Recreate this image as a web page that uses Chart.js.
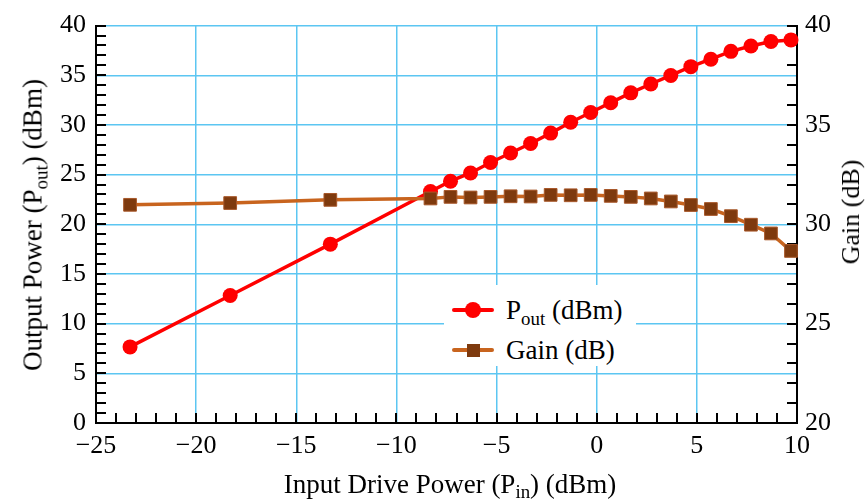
<!DOCTYPE html>
<html lang="en">
<head>
  <meta charset="UTF-8">
  <title>Output Power and Gain vs Input Drive Power</title>
  <style>
    * {
      margin: 0;
      padding: 0;
      box-sizing: border-box;
    }
    body {
      background: #ffffff;
      font-family: "Liberation Serif", "Times New Roman", serif;
      color: #000;
    }
    #wrap {
      position: relative;
      width: 867px;
      height: 501px;
    }
    .title {
      position: absolute;
      white-space: nowrap;
      font-size: 27px;
      line-height: 1;
      transform: translate(-50%, -50%);
    }
    .title sub {
      font-size: 70%;
      vertical-align: -0.3em;
      line-height: 0;
    }
    #legend {
      position: absolute;
      left: 444px;
      top: 285px;
      width: 192px;
      height: 81px;
      background: #fff;
      font-size: 27px;
    }
    #legend .row {
      position: absolute;
      left: 8px;
      height: 30px;
      display: flex;
      align-items: center;
    }
    #legend .key {
      position: relative;
      width: 42px;
      height: 30px;
      margin-right: 12px;
    }
    #legend .bar {
      position: absolute;
      left: 0;
      top: 13px;
      width: 42px;
      height: 4px;
      border-radius: 2px;
    }
    #legend .mk {
      position: absolute;
      left: 13px;
      top: 7px;
      width: 16px;
      height: 16px;
    }
    #legend sub {
      font-size: 70%;
      vertical-align: -0.3em;
      line-height: 0;
    }
  </style>
  <script src="https://cdn.jsdelivr.net/npm/chart.js@4.4.1/dist/chart.umd.min.js"></script>
</head>
<body>
  <div id="wrap">
    <canvas id="powerChart" width="867" height="501"></canvas>
    <div class="title" style="left:33px; top:225px; transform:translate(-50%,-50%) rotate(-90deg);">Output Power (P<sub>out</sub>) (dBm)</div>
    <div class="title" style="left:851px; top:212px; font-size:26px; transform:translate(-50%,-50%) rotate(-90deg);">Gain (dB)</div>
    <div class="title" style="left:450px; top:484px;">Input Drive Power (P<sub>in</sub>) (dBm)</div>
    <div id="legend">
      <div class="row" style="top:10px;">
        <div class="key">
          <div class="bar" style="background:#ff0000;"></div>
          <div class="mk" style="background:#ff0000; border-radius:50%;"></div>
        </div>
        <span>P<sub>out</sub> (dBm)</span>
      </div>
      <div class="row" style="top:50px;">
        <div class="key">
          <div class="bar" style="background:#c8641e;"></div>
          <div class="mk" style="background:#7e3a0e; left:15px; top:9px; width:13px; height:13px;"></div>
        </div>
        <span>Gain (dB)</span>
      </div>
    </div>
  </div>

  <script>
    // input drive power (dBm) at each measured point
    const inputPower = [-23.3, -18.3, -13.3, -8.3, -7.3, -6.3, -5.3, -4.3, -3.3, -2.3, -1.3,
                        -0.3, 0.7, 1.7, 2.7, 3.7, 4.7, 5.7, 6.7, 7.7, 8.7, 9.7];
    // output power (dBm)
    const outputPower = [7.66, 12.83, 18.0, 23.3, 24.34, 25.17, 26.22, 27.18, 28.13, 29.18, 30.27,
                         31.25, 32.24, 33.23, 34.12, 34.98, 35.87, 36.62, 37.41, 37.94, 38.4, 38.56];
    // gain (dB)
    const gain = [30.98, 31.07, 31.23, 31.30, 31.38, 31.35, 31.38, 31.41, 31.40, 31.48, 31.46,
                  31.48, 31.43, 31.38, 31.30, 31.15, 30.97, 30.77, 30.41, 29.98, 29.54, 28.66];

    const xTicks = [-25, -20, -15, -10, -5, 0, 5, 10];
    const yTicks = [0, 5, 10, 15, 20, 25, 30, 35, 40];
    const gainTicks = [20, 25, 30, 35, 40];

    const serif = "'Liberation Serif', 'Times New Roman', serif";
    Chart.defaults.font.family = serif;
    Chart.defaults.font.size = 26;
    Chart.defaults.color = '#000';

    const gridBlue = '#5cc6f2';
    const minus = v => String(v).replace('-', '\u2212');
    const tickFont = () => ({ family: serif, size: 26 });

    // small inward tick marks every 1 unit, like the printed graph
    const innerTicks = {
      id: 'innerTicks',
      beforeDatasetsDraw(chart) {
        const { ctx, chartArea } = chart;
        const x = chart.scales.x, y = chart.scales.y, y2 = chart.scales.y2;
        ctx.save();
        ctx.strokeStyle = '#000';
        ctx.lineWidth = 2;
        ctx.beginPath();
        for (let v = x.min + 1; v < x.max; v++) {
          const px = Math.round(x.getPixelForValue(v));
          ctx.moveTo(px, chartArea.bottom);
          ctx.lineTo(px, chartArea.bottom - 10);
        }
        for (let v = y.min + 1; v <= y.max; v++) {
          const py = Math.round(y.getPixelForValue(v));
          ctx.moveTo(chartArea.left, py);
          ctx.lineTo(chartArea.left + 10, py);
        }
        for (let v = y2.min + 1; v <= y2.max; v++) {
          const py = Math.round(y2.getPixelForValue(v));
          ctx.moveTo(chartArea.right, py);
          ctx.lineTo(chartArea.right - 10, py);
        }
        ctx.stroke();
        ctx.restore();
      }
    };

    const ctx = document.getElementById('powerChart').getContext('2d');
    const powerChart = new Chart(ctx, {
      type: 'line',
      data: {
        datasets: [
          {
            label: 'Gain (dB)',
            data: inputPower.map((p, i) => ({ x: p, y: gain[i] })),
            yAxisID: 'y2',
            borderColor: '#c8641e',
            borderWidth: 3.5,
            pointStyle: 'rect',
            pointRadius: 9,
            pointBackgroundColor: '#7e3a0e',
            pointBorderColor: '#a8582a',
            pointBorderWidth: 1,
            clip: false
          },
          {
            label: 'Pout (dBm)',
            data: inputPower.map((p, i) => ({ x: p, y: outputPower[i] })),
            yAxisID: 'y',
            borderColor: '#ff0000',
            borderWidth: 3.5,
            pointStyle: 'circle',
            pointRadius: 7.5,
            pointBackgroundColor: '#ff0000',
            pointBorderColor: '#ff0000',
            pointBorderWidth: 0,
            clip: false
          }
        ]
      },
      options: {
        responsive: false,
        animation: false,
        events: [],
        layout: { padding: { top: 18, left: 0, right: 0, bottom: 0 } },
        plugins: {
          legend: { display: false },
          tooltip: { enabled: false }
        },
        scales: {
          x: {
            type: 'linear',
            min: -25,
            max: 10,
            afterBuildTicks: s => { s.ticks = xTicks.map(v => ({ value: v })); },
            afterFit: s => { s.height = 78; },
            ticks: { font: tickFont(), color: '#000', padding: 8, callback: minus, maxRotation: 0 },
            grid: { color: gridBlue, lineWidth: 1.5, drawTicks: false },
            border: { display: true, color: '#000', width: 2 }
          },
          y: {
            position: 'left',
            min: 0,
            max: 40,
            afterBuildTicks: s => { s.ticks = yTicks.map(v => ({ value: v })); },
            afterFit: s => { s.width = 96; },
            ticks: { font: tickFont(), color: '#000', padding: 10 },
            grid: { color: gridBlue, lineWidth: 1.5, drawTicks: false },
            border: { display: true, color: '#000', width: 2 }
          },
          y2: {
            position: 'right',
            min: 20,
            max: 40,
            afterBuildTicks: s => { s.ticks = gainTicks.map(v => ({ value: v })); },
            afterFit: s => { s.width = 70; },
            ticks: { font: tickFont(), color: '#000', padding: 8 },
            grid: { drawOnChartArea: false, drawTicks: false },
            border: { display: true, color: '#000', width: 2 }
          }
        }
      },
      plugins: [innerTicks]
    });
  </script>
</body>
</html>
